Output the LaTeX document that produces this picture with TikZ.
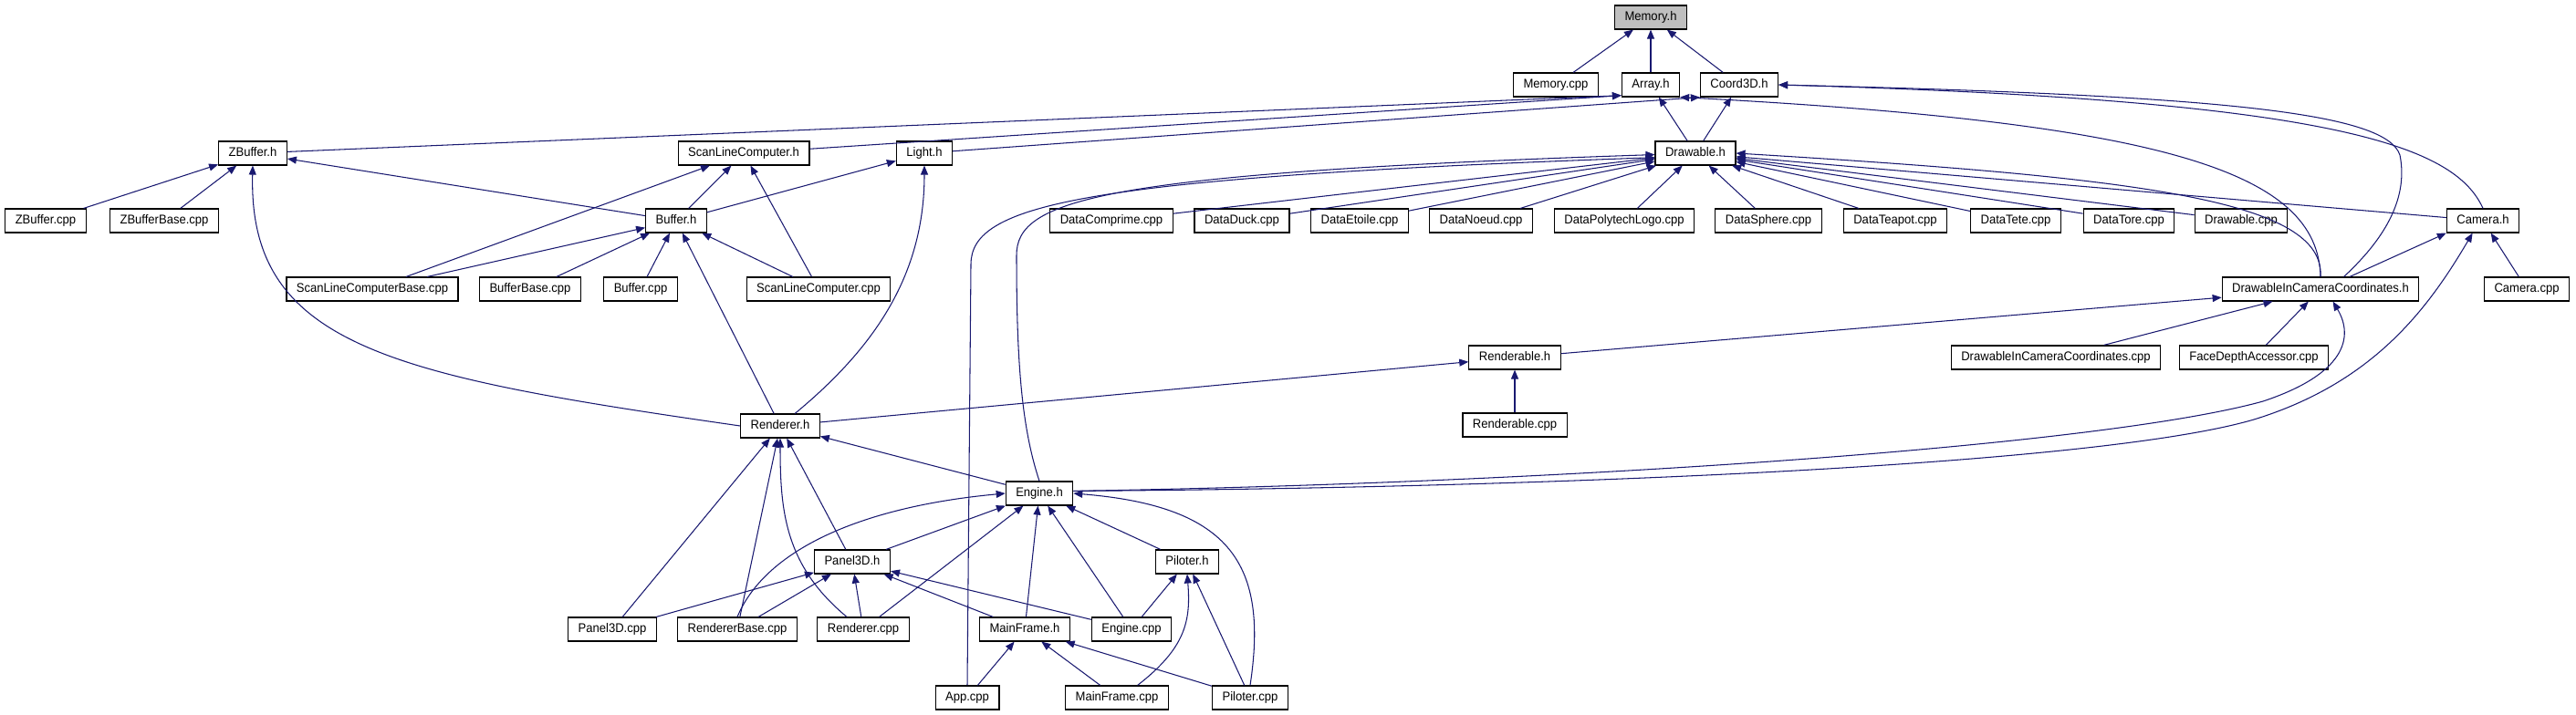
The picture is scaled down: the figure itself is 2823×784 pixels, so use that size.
\documentclass[tikz,border=0pt]{standalone}
\usepackage{fontspec}
\setmainfont{Liberation Sans}[FakeStretch=0.94]
\usepackage{tikz}
\usetikzlibrary{arrows.meta}
\definecolor{edge}{HTML}{191970}
\definecolor{shade}{HTML}{BFBFBF}
\tikzset{
  file/.style={draw=black,line width=0.65pt,fill=white,inner xsep=0.22cm,inner ysep=0pt,minimum height=0.52cm,text height=5.8pt,text depth=1.7pt,font=\fontsize{7.9}{8.5}\selectfont},
  root/.style={file,fill=shade},
  dep/.style={-{Triangle[length=0.2cm,width=0.16cm]},line width=0.6pt,color=edge},
}

\begin{document}
\begin{tikzpicture}[x=0.02cm,y=-0.02cm]
  \useasboundingbox (0,0) rectangle (2823,784);
  % headers and sources, row by row
  \node[root] (memh) at (1809,19) {Memory.h};
  \node[file] (memcpp) at (1705,93) {Memory.cpp};
  \node[file] (arrayh) at (1809,93) {Array.h};
  \node[file] (coordh) at (1906,93) {Coord3D.h};
  \node[file] (zbufh) at (277,168) {ZBuffer.h};
  \node[file] (sclh) at (815,168) {ScanLineComputer.h};
  \node[file] (lighth) at (1013,168) {Light.h};
  \node[file] (drawh) at (1858,168) {Drawable.h};
  \node[file] (zbufcpp) at (50,242) {ZBuffer.cpp};
  \node[file] (zbufbase) at (180,242) {ZBufferBase.cpp};
  \node[file] (bufh) at (741,242) {Buffer.h};
  \node[file] (datacomp) at (1218,242) {DataComprime.cpp};
  \node[file] (dataduck) at (1361,242) {DataDuck.cpp};
  \node[file] (dataetoile) at (1490,242) {DataEtoile.cpp};
  \node[file] (datanoeud) at (1623,242) {DataNoeud.cpp};
  \node[file] (datalogo) at (1780,242) {DataPolytechLogo.cpp};
  \node[file] (datasphere) at (1938,242) {DataSphere.cpp};
  \node[file] (datateapot) at (2077,242) {DataTeapot.cpp};
  \node[file] (datatete) at (2209,242) {DataTete.cpp};
  \node[file] (datatore) at (2333,242) {DataTore.cpp};
  \node[file] (drawcpp) at (2456,242) {Drawable.cpp};
  \node[file] (camh) at (2721,242) {Camera.h};
  \node[file] (sclbase) at (408,317) {ScanLineComputerBase.cpp};
  \node[file] (bufbase) at (581,317) {BufferBase.cpp};
  \node[file] (bufcpp) at (702,317) {Buffer.cpp};
  \node[file] (sclcpp) at (897,317) {ScanLineComputer.cpp};
  \node[file] (dicch) at (2543,317) {DrawableInCameraCoordinates.h};
  \node[file] (camcpp) at (2769,317) {Camera.cpp};
  \node[file] (renderableh) at (1660,392) {Renderable.h};
  \node[file] (dicccpp) at (2253,392) {DrawableInCameraCoordinates.cpp};
  \node[file] (facedepth) at (2470,392) {FaceDepthAccessor.cpp};
  \node[file] (rendererh) at (855,467) {Renderer.h};
  \node[file] (renderablecpp) at (1660,466) {Renderable.cpp};
  \node[file] (engineh) at (1139,541) {Engine.h};
  \node[file] (panelh) at (934,616) {Panel3D.h};
  \node[file] (piloterh) at (1301,616) {Piloter.h};
  \node[file] (panelcpp) at (671,690) {Panel3D.cpp};
  \node[file] (rendbase) at (808,690) {RendererBase.cpp};
  \node[file] (renderercpp) at (946,690) {Renderer.cpp};
  \node[file] (mainframeh) at (1123,690) {MainFrame.h};
  \node[file] (enginecpp) at (1240,690) {Engine.cpp};
  \node[file] (appcpp) at (1060,765) {App.cpp};
  \node[file] (mainframecpp) at (1224,765) {MainFrame.cpp};
  \node[file] (pilotercpp) at (1370,765) {Piloter.cpp};

  % straight includes
  \draw[dep] (memcpp) -- (memh);
  \draw[dep] (arrayh) -- (memh);
  \draw[dep] (coordh) -- (memh);
  \draw[dep] (zbufh) -- (arrayh.200);
  \draw[dep] (sclh) -- (arrayh.200);
  \draw[dep] (lighth) -- (coordh.south west);
  \draw[dep] (drawh) -- (arrayh);
  \draw[dep] (drawh) -- (coordh);
  \draw[dep] (zbufcpp) -- (zbufh);
  \draw[dep] (zbufbase) -- (zbufh);
  \draw[dep] (bufh) -- (zbufh);
  \draw[dep] (sclbase) -- (sclh);
  \draw[dep] (bufh) -- (sclh);
  \draw[dep] (sclcpp) -- (sclh);
  \draw[dep] (bufh) -- (lighth);
  \draw[dep] (sclbase) -- (bufh);
  \draw[dep] (bufbase) -- (bufh);
  \draw[dep] (bufcpp) -- (bufh);
  \draw[dep] (sclcpp) -- (bufh);
  \draw[dep] (rendererh) -- (bufh);
  \draw[dep] (datacomp) -- (drawh);
  \draw[dep] (dataduck) -- (drawh);
  \draw[dep] (dataetoile) -- (drawh);
  \draw[dep] (datanoeud) -- (drawh);
  \draw[dep] (datalogo) -- (drawh);
  \draw[dep] (datasphere) -- (drawh);
  \draw[dep] (datateapot) -- (drawh);
  \draw[dep] (datatete) -- (drawh);
  \draw[dep] (datatore) -- (drawh);
  \draw[dep] (drawcpp) -- (drawh);
  \draw[dep] (camh) -- (drawh);
  \draw[dep] (camcpp) -- (camh);
  \draw[dep] (dicch.23) -- (camh.south west);
  \draw[dep] (dicccpp) -- (dicch);
  \draw[dep] (facedepth) -- (dicch);
  \draw[dep] (renderableh) -- (dicch);
  \draw[dep] (renderablecpp) -- (renderableh);
  \draw[dep] (rendererh) -- (renderableh);
  \draw[dep] (panelcpp) -- (rendererh);
  \draw[dep] (rendbase) -- (rendererh);
  \draw[dep] (panelh) -- (rendererh);
  \draw[dep] (engineh) -- (rendererh);
  \draw[dep] (panelh) -- (engineh);
  \draw[dep] (renderercpp) -- (engineh);
  \draw[dep] (mainframeh) -- (engineh);
  \draw[dep] (enginecpp) -- (engineh);
  \draw[dep] (piloterh) -- (engineh);
  \draw[dep] (panelcpp) -- (panelh);
  \draw[dep] (rendbase) -- (panelh);
  \draw[dep] (renderercpp) -- (panelh);
  \draw[dep] (mainframeh) -- (panelh);
  \draw[dep] (enginecpp) -- (panelh);
  \draw[dep] (enginecpp) -- (piloterh);
  \draw[dep] (pilotercpp) -- (piloterh);
  \draw[dep] (appcpp) -- (mainframeh);
  \draw[dep] (mainframecpp) -- (mainframeh);
  \draw[dep] (pilotercpp) -- (mainframeh);

  % bent includes
  \draw[dep] (rendererh.west) .. controls (430,412) and (272,380) .. (zbufh.south);
  \draw[dep] (rendererh.40) .. controls (960,380) and (1013,300) .. (lighth.south);
  \draw[dep] (appcpp.north) -- (1064,290) .. controls (1064,225) and (1180,195) .. (drawh.186);
  \draw[dep] (engineh.north) .. controls (1120,470) and (1114,400) .. (1114,280) .. controls (1114,220) and (1200,190) .. (drawh.182);
  \draw[dep] (dicch.north) .. controls (2548,220) and (2350,195) .. (drawh.east);
  \draw[dep] (dicch.north) .. controls (2540,190) and (2380,135) .. (arrayh.south east);
  \draw[dep] (dicch.28) .. controls (2610,265) and (2640,220) .. (2630,170) .. controls (2615,125) and (2450,105) .. (coordh.east);
  \draw[dep] (camh.north) .. controls (2690,160) and (2560,110) .. (coordh.east);
  \draw[dep] (engineh.4) .. controls (1700,530) and (2300,490) .. (2480,440) .. controls (2570,410) and (2580,370) .. (dicch.315);
  \draw[dep] (engineh.4) .. controls (1700,535) and (2300,510) .. (2470,460) .. controls (2600,420) and (2660,340) .. (camh.230);
  \draw[dep] (pilotercpp.north) .. controls (1390,620) and (1350,555) .. (engineh.east);
  \draw[dep] (rendbase.north) .. controls (840,600) and (950,555) .. (engineh.west);
  \draw[dep] (renderercpp.143) .. controls (860,620) and (855,560) .. (rendererh.south);
  \draw[dep] (mainframecpp.31) .. controls (1300,710) and (1305,680) .. (piloterh.south);
\end{tikzpicture}
\end{document}
